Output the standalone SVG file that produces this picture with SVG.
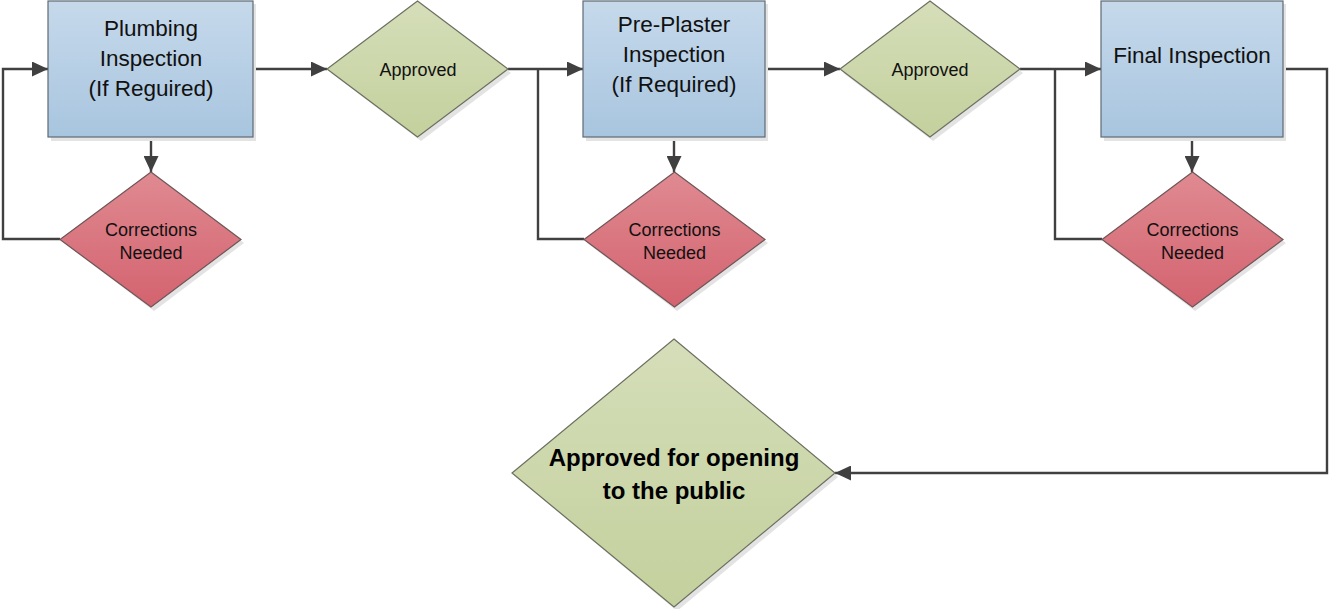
<svg xmlns="http://www.w3.org/2000/svg" width="1330" height="609" viewBox="0 0 1330 609">
  <defs>
    <linearGradient id="gBlue" x1="0" y1="0" x2="0" y2="1">
      <stop offset="0" stop-color="#c6d9eb"/>
      <stop offset="1" stop-color="#a8c5df"/>
    </linearGradient>
    <linearGradient id="gGreen" x1="0" y1="0" x2="0" y2="1">
      <stop offset="0" stop-color="#d5deb9"/>
      <stop offset="1" stop-color="#c4d09d"/>
    </linearGradient>
    <linearGradient id="gRed" x1="0" y1="0" x2="0" y2="1">
      <stop offset="0" stop-color="#e08a91"/>
      <stop offset="1" stop-color="#d3636f"/>
    </linearGradient>
    <marker id="arr" markerUnits="userSpaceOnUse" markerWidth="16" markerHeight="15" refX="16" refY="7.5" orient="auto">
      <path d="M0,0 L16,7.5 L0,15 Z" fill="#404040"/>
    </marker>
  </defs>
  <style>
    .shadow { fill: #e3e3e3; }
    .box { fill: url(#gBlue); stroke: #5f6a73; stroke-width: 1.2; }
    .ok { fill: url(#gGreen); stroke: #6b6f60; stroke-width: 1.2; }
    .bad { fill: url(#gRed); stroke: #6e5558; stroke-width: 1.2; }
    .t { font-family: "Liberation Sans", Arial, sans-serif; fill: #111; text-anchor: middle; }
    .tb { font-size: 22.5px; }
    .td { font-size: 18px; }
    .tf { font-size: 24px; font-weight: bold; fill: #000; }
    .c { fill: none; stroke: #404040; stroke-width: 2.4; }
  </style>

  <g id="connectors">
    <path class="c" d="M253,69 H327" marker-end="url(#arr)"/>
    <path class="c" d="M508,69 H583" marker-end="url(#arr)"/>
    <path class="c" d="M584,239 H538 V69"/>
    <path class="c" d="M151,137 V172" marker-end="url(#arr)"/>
    <path class="c" d="M60,239 H3 V69 H48" marker-end="url(#arr)"/>
    <path class="c" d="M765,69 H840" marker-end="url(#arr)"/>
    <path class="c" d="M674,137 V172" marker-end="url(#arr)"/>
    <path class="c" d="M1020,69 H1101" marker-end="url(#arr)"/>
    <path class="c" d="M1102,239 H1055 V69"/>
    <path class="c" d="M1192,137 V172" marker-end="url(#arr)"/>
    <path class="c" d="M1283,69 H1327 V473 H835" marker-end="url(#arr)"/>
  </g>

  <g id="plumbing">
    <rect class="shadow" x="51" y="4" width="205" height="137"/>
    <rect class="box" x="48" y="1" width="205" height="136"/>
    <text class="t tb" x="151" y="36">Plumbing</text>
    <text class="t tb" x="151" y="66">Inspection</text>
    <text class="t tb" x="151" y="96">(If Reguired)</text>
  </g>

  <g id="corrections1">
    <polygon class="shadow" points="154,176 244,243 154,311 64,243"/>
    <polygon class="bad" points="151,172 241,239.5 151,307 60,239.5"/>
    <text class="t td" x="151" y="236">Corrections</text>
    <text class="t td" x="151" y="259">Needed</text>
  </g>

  <g id="approved1">
    <polygon class="shadow" points="421,5 511,73 421,141 331,73"/>
    <polygon class="ok" points="417.5,1 508,69 417.5,137 327,69"/>
    <text class="t td" x="418" y="76">Approved</text>
  </g>

  <g id="preplaster">
    <rect class="shadow" x="586" y="4" width="182" height="137"/>
    <rect class="box" x="583" y="1" width="182" height="136"/>
    <text class="t tb" x="674" y="32">Pre-Plaster</text>
    <text class="t tb" x="674" y="62">Inspection</text>
    <text class="t tb" x="674" y="92">(If Required)</text>
  </g>

  <g id="corrections2">
    <polygon class="shadow" points="677,176 768,243 677,311 587,243"/>
    <polygon class="bad" points="674.5,172 765,239.5 674.5,307 584,239.5"/>
    <text class="t td" x="674.5" y="236">Corrections</text>
    <text class="t td" x="674.5" y="259">Needed</text>
  </g>

  <g id="approved2">
    <polygon class="shadow" points="933,5 1023,73 933,141 843,73"/>
    <polygon class="ok" points="930,1 1020,69 930,137 840,69"/>
    <text class="t td" x="930" y="76">Approved</text>
  </g>

  <g id="final">
    <rect class="shadow" x="1104" y="4" width="182" height="137"/>
    <rect class="box" x="1101" y="1" width="182" height="136"/>
    <text class="t tb" x="1192" y="63">Final Inspection</text>
  </g>

  <g id="corrections3">
    <polygon class="shadow" points="1195,176 1286,243 1195,311 1105,243"/>
    <polygon class="bad" points="1192.5,172 1283,239.5 1192.5,307 1102,239.5"/>
    <text class="t td" x="1192.5" y="236">Corrections</text>
    <text class="t td" x="1192.5" y="259">Needed</text>
  </g>

  <g id="open">
    <polygon class="shadow" points="677,343 838,477 677,611 516,477"/>
    <polygon class="ok" points="674,339 835,473 674,607 512,473"/>
    <text class="t tf" x="674" y="466">Approved for opening</text>
    <text class="t tf" x="674" y="499">to the public</text>
  </g>
</svg>
